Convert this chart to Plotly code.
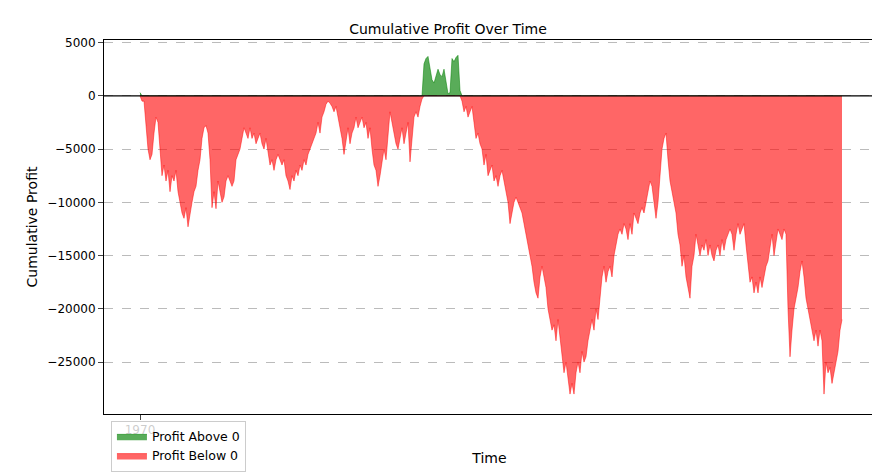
import numpy as np
import plotly.graph_objects as go

# cumulative profit, one value per step
profit = [
    0.3, -0.5, -0.5, -2.5, -5, -6, -5.5, -3.5, -2, -2.5, -5, -7.5, -6.5, -8, -7, -9, -7.5, -8, -7, -9,
    -10, -11, -11.5, -10.5, -12.3, -11, -10, -9, -8.5, -7, -6, -4, -3, -2.8, -3.5, -6, -10.5, -9, -10.6, -8,
    -9, -10, -9.5, -8, -7.5, -8, -8.5, -8, -6, -5.5, -5, -4, -3, -3.5, -4, -3, -4, -3.5, -4.5, -4,
    -3.5, -4.5, -5, -4, -5.5, -6.5, -6, -7, -6, -5.5, -6, -6.5, -6, -7.5, -8, -8.8, -7.5, -8, -7, -7.5,
    -6.5, -7, -6, -6.5, -5.5, -5, -4.5, -4, -3.5, -2.5, -3.5, -2, -1.5, -0.8, -0.5, -0.7, -1, -1.5, -1, -2,
    -3, -4, -5.5, -4, -3, -4.5, -3.5, -3, -2, -3, -2.5, -2, -3, -2.5, -4, -3, -5, -6.5, -7, -8.5,
    -7.5, -6, -5, -6, -3.5, -1.5, -2.5, -3.5, -4.5, -5, -4, -3, -4.5, -3.5, -2.5, -6.2, -4, -2, -1.5, -2,
    -1, -0.3, 3, 3.5, 3.7, 2.5, 1.5, 1.2, 2, 2.5, 2, 1.8, 2.5, 1.5, 0.2, 0.3, 3.5, 3.2, 3.6, 3.8,
    0.5, -0.5, -1.5, -1, -2, -1.5, -1, -2.5, -4, -3.5, -4.5, -5, -6.5, -5.5, -7.5, -7, -6.5, -8, -7.5, -8.5,
    -7.5, -7, -8, -9, -10, -12, -11, -10, -9.5, -10, -10.5, -11, -12, -13, -14, -15, -16, -17.5, -18.5, -19,
    -17, -16, -17, -18, -20, -21, -22, -21.5, -23, -21, -22.5, -24, -26, -25, -26.5, -28, -27, -28, -26, -25,
    -26, -24, -25, -24.5, -23, -22, -21, -22, -20, -21, -19, -17, -16, -17.5, -16.5, -16, -17, -15, -14, -13,
    -12.5, -13, -12, -12.5, -13.5, -12, -13, -11, -11.5, -12, -11, -10.5, -11, -10, -9, -8, -8.5, -10, -11.5, -10,
    -7, -5, -4, -3.5, -6, -8, -9, -10, -11, -13, -14, -16, -15, -17, -18, -19, -16, -15, -13, -14,
    -15, -14, -14.5, -13.5, -15, -14, -15, -15.5, -14.5, -14, -15, -13.5, -14.5, -13.5, -13, -12.5, -13, -14.5, -13, -12,
    -13, -12.5, -12, -14, -16, -17.5, -17, -18.5, -17.5, -18.5, -17, -18, -17, -16, -15.5, -14, -13, -15, -13.5, -12.5,
    -13, -13.5, -12.5, -13, -20, -24.5, -22, -20, -19, -18, -16.5, -15.5, -17, -19, -20, -21, -22, -23, -22, -23.5,
    -22, -23, -28, -25, -26, -25.5, -27, -26, -25, -24, -22, -21,
]
profit = np.array(profit) * 1000
steps = np.arange(len(profit))

above = np.maximum(profit, 0)
below = np.minimum(profit, 0)

fig = go.Figure()
fig.add_trace(go.Scatter(
    x=steps, y=above, mode="lines", fill="tozeroy", name="Profit Above 0",
    line=dict(color="rgba(0,128,0,0.65)", width=0.8), fillcolor="rgba(0,128,0,0.65)",
))
fig.add_trace(go.Scatter(
    x=steps, y=below, mode="lines", fill="tozeroy", name="Profit Below 0",
    line=dict(color="rgba(255,0,0,0.6)", width=0.8), fillcolor="rgba(255,0,0,0.6)",
))
fig.add_hline(y=0, line=dict(color="black", width=1.3))

fig.update_layout(
    width=880, height=476,
    margin=dict(l=96, r=13, t=32, b=62),
    plot_bgcolor="white", paper_bgcolor="white",
    font=dict(family="DejaVu Sans", size=12, color="black"),
    title=dict(text="Cumulative Profit Over Time", x=0.5, xanchor="center", y=0.965, font=dict(size=14)),
    legend=dict(x=0.009, y=-0.018, xanchor="left", yanchor="top", bgcolor="rgba(255,255,255,0.8)",
                bordercolor="#cccccc", borderwidth=1, font=dict(size=12.5)),
    showlegend=True,
)
fig.update_xaxes(range=[-18, 367.5], tickvals=[0], ticktext=["1970"], showgrid=False,
                 showline=True, linecolor="black", mirror=True, ticks="outside", zeroline=False,
                 title=dict(text="Time", standoff=16))
fig.update_yaxes(range=[-29870, 5240], tickvals=list(range(-25000, 5001, 5000)),
                 ticktext=["\u221225000", "\u221220000", "\u221215000", "\u221210000", "\u22125000", "0", "5000"],
                 showgrid=True, gridcolor="#bbbbbb", griddash="dash", gridwidth=0.6, zeroline=False,
                 showline=True, linecolor="black", mirror=True, ticks="outside",
                 title=dict(text="Cumulative Profit", standoff=6))

fig.write_html("out.html")
